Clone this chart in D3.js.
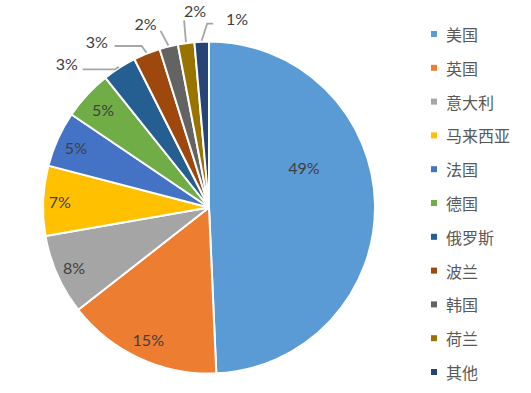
<!DOCTYPE html>
<html><head><meta charset="utf-8">
<script src="https://cdn.jsdelivr.net/npm/d3@7"></script>
<style>body{margin:0;background:#fff;}svg{display:block;}</style>
</head><body>
<svg id="c" width="531" height="393"></svg>
<script>
const categories = ["美国","英国","意大利","马来西亚","法国","德国","俄罗斯","波兰","韩国","荷兰","其他"];
const values = [49.2,15.1,7.8,6.8,5.4,4.8,3.3,2.6,1.8,1.6,1.4];
const colors = ["#5B9BD5","#ED7D31","#A5A5A5","#FFC000","#4472C4","#70AD47","#255E91","#9E480E","#636363","#997300","#264478"];

// label placement: [radius factor, angle offset (deg) from slice mid] ; outside labels also have leader settings
const labelPlace = [
  {r:0.62, da:-21.5},
  {r:0.875, da:0},{r:0.89, da:0},{r:0.90, da:0},{r:0.88, da:0},{r:0.87, da:0},
  {r:1.22, da:-12, out:true, ax:16, ay:6, ex:32},
  {r:1.21, da:-12, out:true, ax:18, ay:5, ex:27},
  {r:1.17, da:-5, out:true, ax:15, ay:7, ex:0},
  {r:1.19, da:3.9, out:true, ax:-11, ay:10, ex:0},
  {r:1.15, da:11, out:true, ax:-24, ay:5, ex:-6}
];

const svg = d3.select("#c");
const cx = 209, cy = 207.5, R = 166;
const g = svg.append("g").attr("transform", `translate(${cx},${cy})`);
const total = d3.sum(values);
const pie = d3.pie().sort(null).value(d => d)(values);
const arc = d3.arc().innerRadius(0).outerRadius(R);

g.selectAll("path.slice").data(pie).join("path")
  .attr("class","slice")
  .attr("d", arc)
  .attr("fill", (d,i) => colors[i])
  .attr("stroke", "#fff").attr("stroke-width", 2).attr("stroke-linejoin","round");

const pt = (ang, r) => [r*Math.sin(ang), -r*Math.cos(ang)];

pie.forEach((d,i) => {
  const p = labelPlace[i];
  const mid = (d.startAngle + d.endAngle)/2;
  const la = mid + p.da*Math.PI/180;
  const [x,y] = pt(la, R*p.r);
  const txt = Math.round(d.value/total*100) + "%";
  if (p.out) {
    const ax = x + p.ax, ay = y + p.ay;
    const [exx, eyy] = pt(mid, R+1);
    const pts = [[ax,ay]];
    if (p.ex !== 0) pts.push([ax + p.ex, ay]);
    pts.push([exx, eyy]);
    g.append("polyline").attr("points", pts.map(q=>q.join(",")).join(" "))
      .attr("fill","none").attr("stroke","#A6A6A6").attr("stroke-width",1.8);
  }
  g.append("text").attr("x", x).attr("y", y)
    .attr("text-anchor","middle").attr("dominant-baseline","central")
    .attr("font-family","Lato, 'Open Sans', sans-serif").attr("font-size",16)
    .attr("fill","#404040").text(txt);
});

const leg = svg.append("g");
const ly = d3.scalePoint().domain(categories).range([34, 372]);
categories.forEach((c,i) => {
  leg.append("rect").attr("x",431).attr("y", ly(c)-3).attr("width",6).attr("height",6).attr("fill", colors[i]);
  leg.append("text").attr("x",446).attr("y", ly(c)).attr("dominant-baseline","central")
    .attr("font-family","'Noto Sans CJK SC', sans-serif").attr("font-size",16)
    .attr("fill","#595959").text(c);
});
</script>
</body></html>
